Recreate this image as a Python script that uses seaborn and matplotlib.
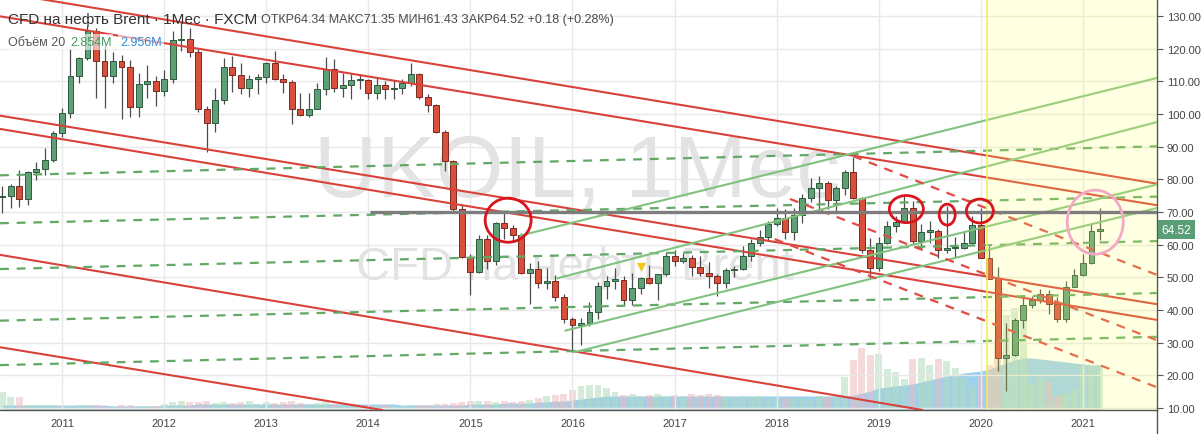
import matplotlib
matplotlib.use('Agg')
import matplotlib.pyplot as plt
import matplotlib.transforms as mtransforms
from matplotlib import font_manager
from matplotlib.patches import Ellipse
from matplotlib.lines import Line2D
from matplotlib.ticker import FormatStrFormatter
import numpy as np
import pandas as pd
import seaborn as sns

# monthly candles, Jun 2010 .. Mar 2021
months = pd.date_range('2010-06-01', '2021-03-01', freq='MS')

open_ = [74.5, 74.9, 78.0, 74.0, 82.3, 83.2, 85.8,
         94.2, 100.2, 111.6, 117.0, 125.5, 116.2, 111.6, 116.2, 114.5, 102.2, 109.1, 110.1,
         107.0, 110.8, 122.7, 122.9, 119.1, 101.6, 97.3, 104.2, 114.5, 111.8, 108.0, 110.8,
         111.2, 115.5, 110.8, 109.8, 101.4, 99.6, 101.6, 107.7, 113.9, 108.0, 108.8, 110.3,
         110.5, 106.3, 108.8, 107.5, 108.0, 109.4, 112.2, 105.3, 102.9, 94.4, 85.6, 70.8,
         56.2, 51.6, 61.6, 54.9, 66.5, 65.0, 62.9, 51.3, 52.5, 48.3, 49.0, 44.0,
         37.4, 35.5, 36.0, 39.5, 47.5, 49.0, 49.2, 43.0, 46.6, 49.7, 48.2, 51.0,
         56.5, 55.1, 56.0, 53.2, 51.3, 50.4, 48.3, 52.2, 52.6, 56.4, 60.6, 62.3,
         66.3, 68.2, 64.0, 69.2, 74.3, 77.4, 78.9, 73.7, 77.4, 82.4, 74.2, 58.5,
         53.0, 60.6, 65.7, 67.0, 71.1, 61.2, 64.0, 64.1, 58.5, 59.0, 59.1, 60.4,
         66.0, 56.0, 49.6, 25.3, 26.3, 37.0, 41.4, 43.1, 45.0, 41.7, 37.3, 47.2,
         50.8, 54.4, 64.34]
high = [78.0, 78.6, 83.0, 82.6, 85.2, 89.6, 94.8,
        101.8, 119.8, 117.6, 127.0, 126.2, 121.0, 119.0, 118.0, 116.5, 112.5, 115.0, 111.6,
        113.6, 125.5, 128.5, 126.3, 119.9, 102.5, 108.0, 117.0, 117.9, 115.6, 111.8, 112.2,
        116.0, 119.2, 112.2, 110.5, 106.5, 106.5, 109.5, 117.3, 116.9, 112.5, 112.2, 112.2,
        110.8, 111.4, 110.0, 110.4, 110.8, 115.7, 112.4, 106.2, 103.2, 95.0, 86.0, 72.0,
        57.1, 63.0, 62.9, 67.0, 69.6, 66.0, 63.6, 54.5, 55.0, 53.0, 50.6, 44.9,
        38.0, 37.5, 42.5, 48.5, 50.5, 52.9, 50.5, 51.2, 50.0, 53.7, 50.5, 57.9,
        58.4, 57.6, 56.9, 56.6, 54.6, 50.9, 52.9, 53.5, 59.5, 61.6, 64.6, 67.2,
        71.2, 71.0, 71.2, 75.5, 80.5, 80.9, 79.4, 78.0, 83.0, 86.9, 74.5, 62.0,
        62.4, 67.2, 68.7, 75.0, 73.5, 66.3, 67.4, 64.9, 71.8, 62.3, 64.0, 68.9,
        71.3, 59.5, 53.3, 36.0, 37.5, 43.9, 44.4, 46.5, 46.1, 43.9, 49.0, 52.5,
        57.1, 66.5, 71.35]
low = [69.8, 71.2, 71.6, 72.1, 79.7, 81.3, 85.3,
       93.0, 98.8, 109.5, 116.5, 104.9, 101.8, 109.4, 98.6, 99.0, 99.2, 105.0, 102.6,
       105.4, 109.6, 119.3, 117.4, 100.5, 88.4, 94.6, 103.1, 106.6, 106.1, 105.3, 106.2,
       109.5, 110.5, 106.5, 96.8, 99.4, 99.0, 101.4, 105.9, 106.6, 105.3, 104.5, 107.8,
       104.6, 104.5, 104.6, 104.5, 106.1, 108.5, 104.7, 100.6, 94.2, 82.7, 69.9, 55.8,
       44.7, 51.3, 52.5, 53.8, 61.6, 61.0, 51.0, 41.8, 46.6, 46.5, 42.8, 36.1,
       27.1, 29.3, 35.0, 37.3, 43.5, 46.5, 41.6, 41.5, 45.0, 48.0, 43.2, 50.4,
       53.6, 54.3, 50.3, 50.5, 46.6, 44.4, 46.6, 50.0, 52.4, 55.0, 59.5, 61.2,
       65.8, 61.8, 61.5, 66.6, 73.0, 70.5, 71.0, 70.4, 75.3, 73.9, 57.6, 49.8,
       52.0, 60.2, 64.0, 66.8, 60.2, 58.7, 60.4, 55.9, 57.4, 56.2, 58.7, 60.2,
       55.8, 49.4, 21.3, 15.2, 26.0, 34.5, 40.5, 42.2, 38.9, 36.3, 36.4, 46.9,
       50.4, 54.2, 61.43]
close = [74.9, 77.9, 74.0, 82.3, 83.2, 85.8, 94.2,
         100.2, 111.6, 117.0, 125.5, 116.2, 111.6, 116.2, 114.5, 102.2, 109.1, 110.1, 107.0,
         110.8, 122.7, 122.9, 119.1, 101.6, 97.3, 104.2, 114.5, 111.8, 108.0, 110.8, 111.2,
         115.5, 110.8, 109.8, 101.4, 99.6, 101.6, 107.7, 113.9, 108.0, 108.8, 110.3, 110.5,
         106.3, 108.8, 107.5, 108.0, 109.4, 112.2, 105.3, 102.9, 94.4, 85.6, 70.8, 56.2,
         51.6, 61.6, 54.9, 66.5, 65.0, 62.9, 51.3, 52.5, 48.3, 49.0, 44.0, 37.4,
         35.5, 36.0, 39.5, 47.5, 49.0, 49.2, 43.0, 46.6, 49.7, 48.2, 51.0, 56.5,
         55.1, 56.0, 53.2, 51.3, 50.4, 48.3, 52.2, 52.6, 56.4, 60.6, 62.3, 66.3,
         68.2, 64.0, 69.2, 74.3, 77.4, 78.9, 73.7, 77.4, 82.4, 74.2, 58.5, 53.0,
         60.6, 65.7, 67.0, 71.1, 61.2, 64.0, 64.1, 58.5, 59.0, 59.1, 60.4, 66.0,
         56.0, 49.6, 25.3, 26.3, 37.0, 41.4, 43.1, 45.0, 41.7, 37.3, 47.2, 50.8,
         54.4, 64.34, 64.52]

volume = [1.17, 0.84, 0.84, 0.32, 0.32, 0.32, 0.32,
          0.26, 0.26, 0.32, 0.32, 0.32, 0.26, 0.26, 0.32, 0.32, 0.26, 0.26, 0.26,
          0.39, 0.52, 0.58, 0.52, 0.52, 0.58, 0.45, 0.52, 0.45, 0.52, 0.58, 0.39,
          0.52, 0.45, 0.52, 0.58, 0.45, 0.39, 0.45, 0.52, 0.39, 0.45, 0.39, 0.32,
          0.32, 0.32, 0.32, 0.26, 0.26, 0.32, 0.32, 0.32, 0.39, 0.39, 0.45, 0.52,
          0.58, 0.58, 0.58, 0.52, 0.58, 0.52, 0.58, 0.65, 0.78, 0.91, 0.97, 1.04,
          1.30, 1.56, 1.62, 1.62, 1.43, 1.17, 0.97, 1.04, 0.91, 0.97, 1.04, 0.91,
          0.97, 0.91, 1.04, 0.97, 1.04, 0.97, 0.91, 0.84, 0.91, 0.84, 0.91, 0.78,
          0.84, 0.78, 0.78, 0.71, 0.71, 0.91, 0.84, 0.84, 2.14, 3.25, 4.03, 3.57,
          3.64, 2.66, 2.47, 2.01, 3.31, 3.38, 2.92, 3.31, 3.18, 2.73, 2.08, 1.62,
          2.14, 2.92, 4.55, 6.17, 6.62, 6.49, 1.69, 2.01, 1.82, 0.91, 1.04, 1.30,
          2.86, 2.86, 2.854]
volume_ma = [0.32, 0.32, 0.32, 0.32, 0.32, 0.32, 0.32,
             0.32, 0.32, 0.32, 0.32, 0.32, 0.32, 0.26, 0.26, 0.26, 0.26, 0.26, 0.26,
             0.32, 0.32, 0.32, 0.32, 0.39, 0.39, 0.39, 0.39, 0.39, 0.39, 0.39, 0.39,
             0.39, 0.39, 0.39, 0.39, 0.39, 0.39, 0.39, 0.39, 0.39, 0.39, 0.39, 0.39,
             0.39, 0.39, 0.39, 0.39, 0.32, 0.32, 0.32, 0.32, 0.32, 0.32, 0.32, 0.32,
             0.39, 0.39, 0.39, 0.39, 0.45, 0.45, 0.45, 0.45, 0.52, 0.52, 0.58, 0.58,
             0.65, 0.71, 0.78, 0.84, 0.91, 0.91, 0.91, 0.91, 0.91, 0.91, 0.91, 0.91,
             0.91, 0.91, 0.91, 0.91, 0.91, 0.91, 0.91, 0.91, 0.91, 0.91, 0.91, 0.91,
             0.91, 0.91, 0.91, 0.91, 0.91, 0.91, 0.91, 0.91, 0.91, 0.97, 1.10, 1.23,
             1.43, 1.49, 1.56, 1.62, 1.69, 1.82, 1.95, 2.08, 2.21, 2.27, 2.40, 2.47,
             2.53, 2.66, 2.86, 3.05, 3.25, 3.38, 3.38, 3.31, 3.25, 3.18, 3.12, 3.05,
             2.99, 2.92, 2.956]

# drawings: (year, price) anchor pairs
red_channel = [((2011.0, 134.1), (2021.72, 78.7)),
               ((2011.0, 126.8), (2021.72, 72.1)),
               ((2011.0, 96.4), (2021.72, 41.8)),
               ((2011.0, 92.3), (2021.72, 37.0)),
               ((2011.0, 53.7), (2019.43, 9.4)),
               ((2011.0, 25.5), (2014.08, 9.7))]
red_dashed = [((2018.75, 87.1), (2021.72, 50.8)),
              ((2018.13, 74.0), (2021.72, 30.8)),
              ((2017.98, 61.7), (2021.72, 16.4))]
green_levels = [((2011.0, 81.7), (2021.72, 90.1)),
                ((2011.0, 67.0), (2021.72, 74.7)),
                ((2011.0, 53.0), (2021.72, 61.1)),
                ((2011.0, 37.2), (2021.72, 45.2)),
                ((2011.0, 23.6), (2021.72, 31.8))]
green_channel = [((2015.49, 62.8), (2021.72, 111.0)),
                 ((2015.85, 49.7), (2021.72, 97.5)),
                 ((2015.93, 33.7), (2021.72, 78.4)),
                 ((2016.02, 27.1), (2021.72, 71.2))]
resistance_start, resistance_level = 2014.02, 70.0
# circles: centre year, centre price, width (years), height (price)
red_circles = [(2015.37, 67.5, 0.45, 13.5),
               (2019.27, 70.9, 0.333, 8.3),
               (2019.67, 69.2, 0.157, 6.4),
               (2019.99, 70.3, 0.264, 7.3)]
pink_circle = (2021.12, 66.9, 0.548, 19.6)
zone_start = 2020.06
marker_year, marker_price = 2016.667, 53.1
years = list(range(2011, 2022))
price_ticks = list(range(10, 131, 10))

sns.set_style('white')
plt.rcParams['font.family'] = ['Liberation Sans', 'DejaVu Sans']

x = np.asarray(months.year + (months.month - 1) / 12.0)
o, h, l, c = map(np.asarray, (open_, high, low, close))
up = c >= o

fig = plt.figure(figsize=(12.04, 4.35), dpi=100)
fig.patch.set_facecolor('white')
ax = fig.add_axes([0, 24 / 435, 1157 / 1204, 411 / 435])
axv = ax.twinx()
ax.set_zorder(2)
axv.set_zorder(1)
ax.patch.set_visible(False)

# volume pane
axv.fill_between(x, 0, volume_ma, color='#7cbfea', alpha=0.75, lw=0)
vcol = np.where(up, '#b3dcbc', '#ebbcbc')
axv.bar(x, volume, width=0.068, color=vcol, alpha=0.55, lw=0)
axv.set_ylim(0, 26.7)
axv.set_yticks([])
axv.tick_params(right=False, labelright=False)
for s in axv.spines.values():
    s.set_visible(False)

# watermark
names = {f.name for f in font_manager.fontManager.ttflist}
narrow = 'Liberation Sans Narrow' in names
ax.text(0.4987, 0.5207, 'UKOIL, 1Мес', transform=ax.transAxes, ha='center', va='baseline',
        fontsize=76 if narrow else 63, color='#e3e3e3', zorder=1,
        family='Liberation Sans Narrow' if narrow else 'Liberation Sans')
ax.text(0.497, 0.3187, 'CFD на нефть Brent', transform=ax.transAxes, ha='center', va='baseline',
        fontsize=34, color='#e3e3e3', zorder=1)

# candles
body = np.maximum(np.abs(c - o), 0.35)
ax.vlines(x, l, h, color='#4d4d4d', lw=0.9, zorder=3)
ax.bar(x, body, bottom=np.minimum(o, c), width=0.058,
       color=np.where(up, '#5f9f77', '#d6503c'),
       edgecolor=np.where(up, '#2d5a3c', '#7a2a20'), lw=0.7, zorder=3)

# trend lines
for p1, p2 in red_channel:
    ax.axline(p1, p2, color='#d9413a', lw=1.5, zorder=4)
for p1, p2 in green_levels:
    ax.axline(p1, p2, color='#62a867', lw=1.6, dashes=(4, 3.5), zorder=4)
for p1, p2 in green_channel:
    ax.plot([p1[0], p2[0]], [p1[1], p2[1]], color='#80c27e', lw=1.5, zorder=4)
for p1, p2 in red_dashed:
    ax.plot([p1[0], p2[0]], [p1[1], p2[1]], color='#de4c45', lw=1.6, dashes=(4, 3.5), zorder=4)

# highlighted zone
ax.axvspan(zone_start, 2030, color='#ffff6a', alpha=0.2, lw=0, zorder=5)
ax.axvline(zone_start, color='#f0ec6a', lw=1.2, zorder=5)

ax.hlines(resistance_level, resistance_start, 2030, color='#7d7d7d', lw=2.4, zorder=6)
for cx, cy, w, hh in red_circles:
    ax.add_patch(Ellipse((cx, cy), w, hh, fill=False, ec='#d8141c', lw=2, zorder=7))
cx, cy, w, hh = pink_circle
ax.add_patch(Ellipse((cx, cy), w, hh, fill=False, ec='#f3a9c6', lw=2, zorder=7))
ax.scatter([marker_year], [marker_price], marker='v', s=45, color='#f2c81f', lw=0, zorder=7)

# axes styling
ax.set_xlim(2010.393, 2021.725)
ax.set_ylim(9.4, 135.2)
ax.set_xticks(years)
ax.set_xticklabels([str(y) for y in years])
ax.yaxis.tick_right()
ax.set_yticks(price_ticks)
ax.yaxis.set_major_formatter(FormatStrFormatter('%.2f'))
ax.grid(True, color='#e8e8e8', lw=1)
ax.set_axisbelow(True)
ax.tick_params(axis='x', length=0, pad=6, labelsize=8, labelcolor='#444444')
ax.tick_params(axis='y', length=4, color='#555555', pad=3, labelsize=8, labelcolor='#444444')
for side in ('top', 'left'):
    ax.spines[side].set_visible(False)
for side in ('right', 'bottom'):
    ax.spines[side].set_color('#555555')
    ax.spines[side].set_linewidth(1)
fig.add_artist(Line2D([1157 / 1204] * 2, [0, 24 / 435], transform=fig.transFigure,
                      color='#555555', lw=1))

# last price label
trans = mtransforms.blended_transform_factory(ax.transAxes, ax.transData)
ax.text(1.004, close[-1], f'{close[-1]:.2f}', transform=trans, ha='left', va='center',
        fontsize=8.5, color='white', clip_on=False, zorder=10,
        bbox=dict(boxstyle='square,pad=0.3', fc='#5a9e78', ec='none'))

# header / legend
fig.text(8 / 1204, 1 - 20 / 435, 'CFD на нефть Brent · 1Мес · FXCM', va='center',
         fontsize=11, color='#333333', zorder=5)
fig.text(261 / 1204, 1 - 20 / 435,
         f'ОТКР{open_[-1]:.2f} МАКС{high[-1]:.2f} МИН{low[-1]:.2f} ЗАКР{close[-1]:.2f} '
         f'+{close[-1] - open_[-1]:.2f} (+0.28%)',
         va='center', fontsize=9, color='#4a4a4a', zorder=5)
box = dict(boxstyle='square,pad=0.15', fc='white', ec='none', alpha=0.6)
fig.text(8 / 1204, 1 - 43 / 435, 'Объём 20', va='center', fontsize=9, color='#555555',
         bbox=box, zorder=5)
fig.text(70 / 1204, 1 - 43 / 435, f'{volume[-1]:.3f}M', va='center', fontsize=9,
         color='#3d9a5d', bbox=box, zorder=5)
fig.text(120 / 1204, 1 - 43 / 435, f'{volume_ma[-1]:.3f}M', va='center', fontsize=9,
         color='#2f8ad0', bbox=box, zorder=5)

fig.savefig('out.png', dpi=100, facecolor='white')
